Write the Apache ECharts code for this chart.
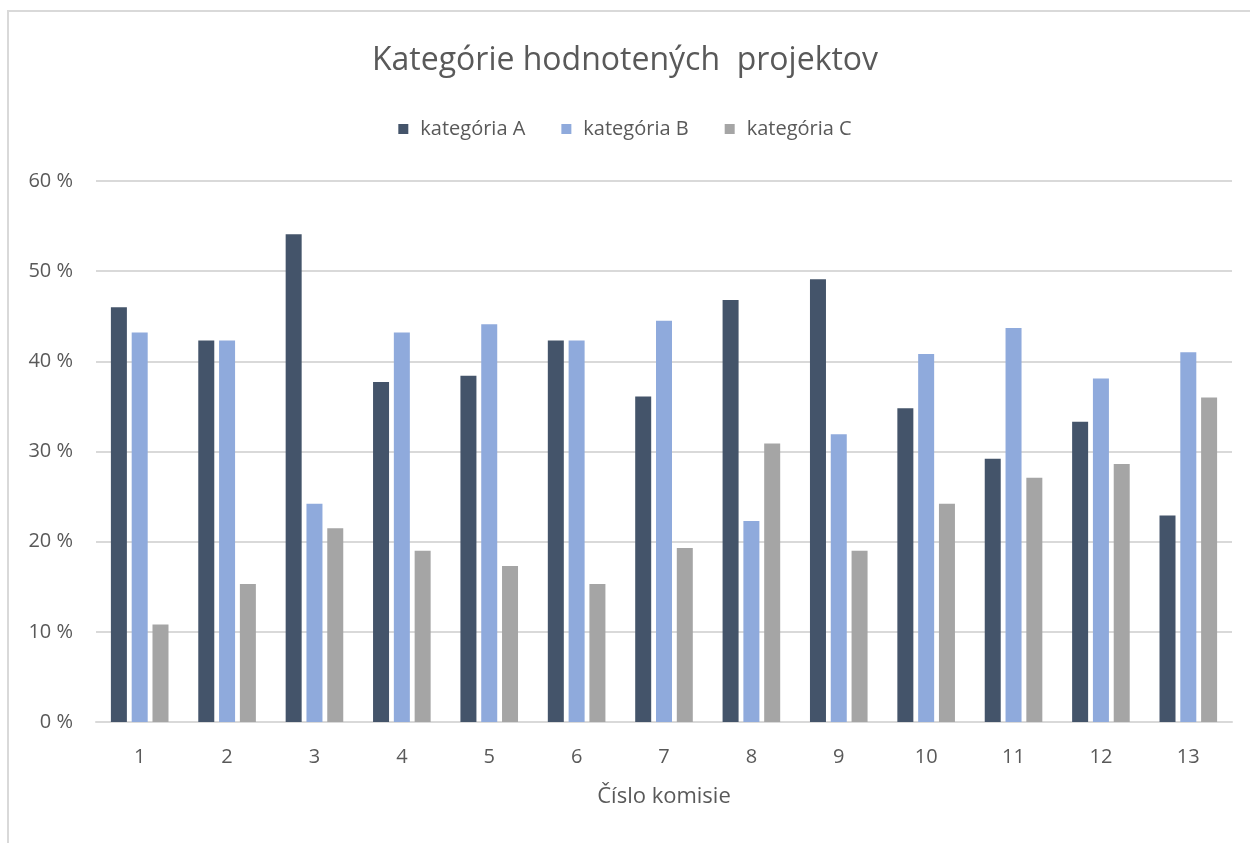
<!DOCTYPE html>
<html>
<head>
    <meta charset="utf-8">
    <title>Kategórie hodnotených projektov</title>
    <script src="https://cdn.jsdelivr.net/npm/echarts@6/dist/echarts.min.js"></script>
    <style>
        html, body { margin: 0; padding: 0; background: #fff; }
    </style>
</head>
<body>
    <div id="main" style="width: 1250px;height:843px;"></div>

<script>
// čísla komisií
const komisie = ['1', '2', '3', '4', '5', '6', '7', '8', '9', '10', '11', '12', '13'];
// podiely v %
const kategoriaA = [46.0, 42.3, 54.1, 37.7, 38.4, 42.3, 36.1, 46.8, 49.1, 34.8, 29.2, 33.3, 22.9];
const kategoriaB = [43.2, 42.3, 24.2, 43.2, 44.1, 42.3, 44.5, 22.3, 31.9, 40.8, 43.7, 38.1, 41.0];
const kategoriaC = [10.8, 15.3, 21.5, 19.0, 17.3, 15.3, 19.3, 30.9, 19.0, 24.2, 27.1, 28.6, 36.0];
const nazvySerii = ['kategória A', 'kategória B', 'kategória C'];
const farby = ['#44546A', '#8FAADC', '#A5A5A5'];

const FONT = "'Open Sans', 'Noto Sans', sans-serif";
const TEXT_COLOR = '#595959';

const myChart = echarts.init(document.getElementById('main'));

const option = {
    animation: false,
    textStyle: { fontFamily: FONT, color: TEXT_COLOR },
    title: {
        text: 'Kategórie hodnotených  projektov',
        left: 'center',
        top: 40,
        textStyle: { fontFamily: FONT, fontSize: 32, fontWeight: 'normal', color: TEXT_COLOR }
    },
    legend: {
        top: 114,
        left: 'center',
        itemWidth: 10,
        itemHeight: 10,
        itemGap: 36,
        icon: 'rect',
        textStyle: { fontFamily: FONT, fontSize: 20, color: TEXT_COLOR, padding: [0, 0, 0, 7] }
    },
    grid: { left: 96, right: 18, top: 181, bottom: 121 },
    xAxis: {
        type: 'category',
        data: komisie,
        name: 'Číslo komisie',
        nameLocation: 'middle',
        nameGap: 64,
        nameTextStyle: { fontFamily: FONT, fontSize: 22, color: TEXT_COLOR },
        axisLine: { lineStyle: { color: '#D9D9D9', width: 2 } },
        axisTick: { show: false },
        axisLabel: { margin: 25, fontFamily: FONT, fontSize: 20, color: TEXT_COLOR }
    },
    yAxis: {
        type: 'value',
        min: 0,
        max: 60,
        interval: 10,
        axisLine: { show: false },
        axisTick: { show: false },
        axisLabel: {
            formatter: '{value} %',
            margin: 23,
            fontFamily: FONT,
            fontSize: 20,
            color: TEXT_COLOR
        },
        splitLine: { lineStyle: { color: '#D9D9D9', width: 2 } }
    },
    graphic: [{
        type: 'rect',
        shape: { x: 8, y: 11, width: 1300, height: 900 },
        style: { fill: 'none', stroke: '#D9D9D9', lineWidth: 2 },
        silent: true
    }],
    series: [kategoriaA, kategoriaB, kategoriaC].map((data, i) => ({
        name: nazvySerii[i],
        type: 'bar',
        data: data,
        barWidth: 16,
        barGap: '30%',
        itemStyle: { color: farby[i] }
    }))
};

myChart.setOption(option);
</script>
</body>
</html>
